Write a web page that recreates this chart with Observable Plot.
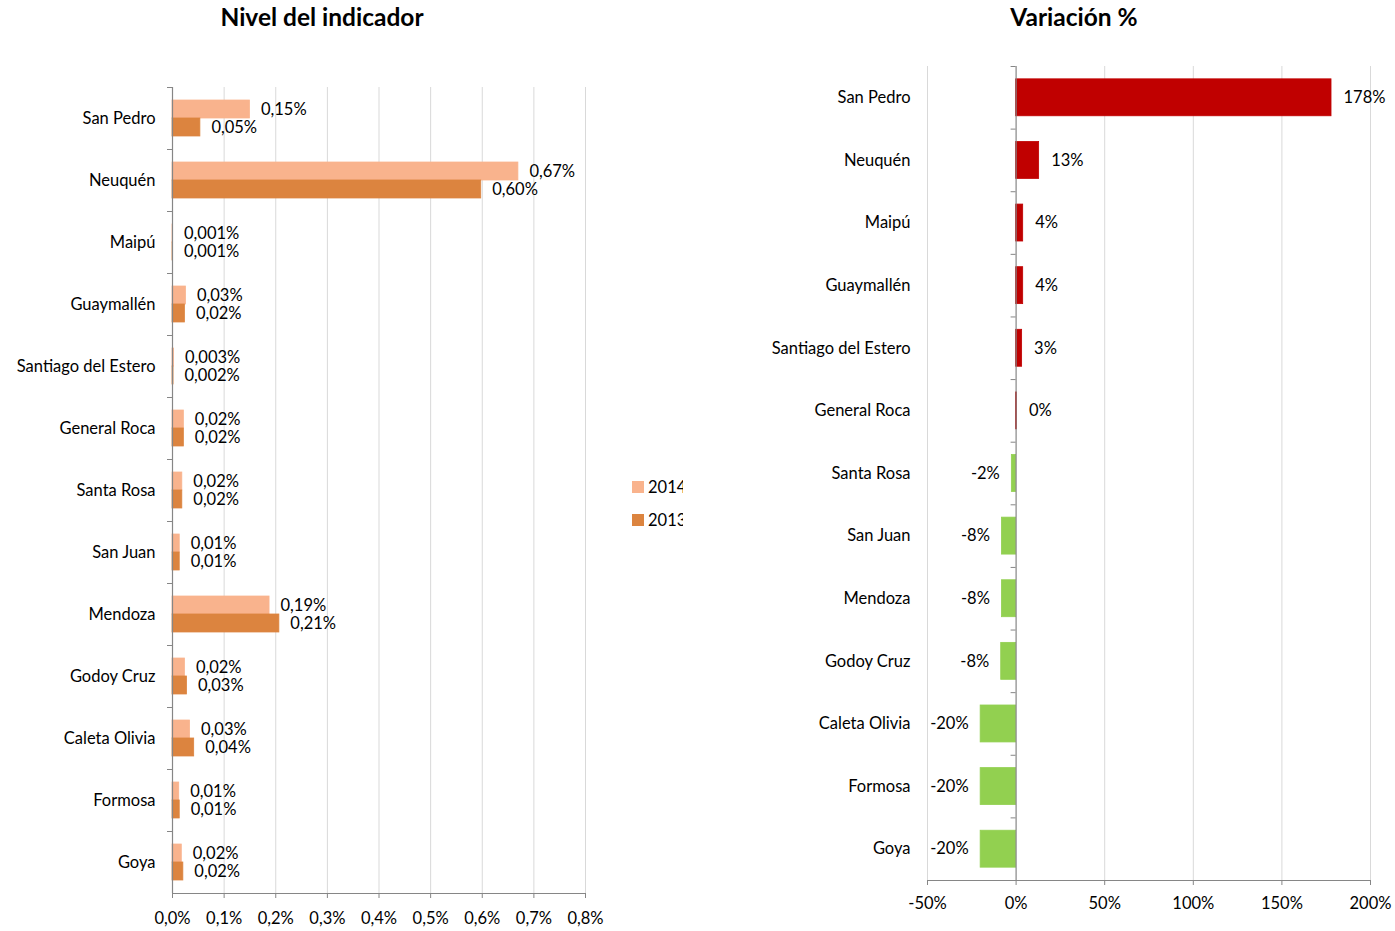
<!DOCTYPE html>
<html><head><meta charset="utf-8">
<script src="https://cdn.jsdelivr.net/npm/d3@7"></script>
<script src="https://cdn.jsdelivr.net/npm/@observablehq/plot@0.6"></script>
<style>
body{margin:0;background:#fff;font-family:Lato,"Open Sans",sans-serif;color:#000;}
#wrap{position:relative;width:1395px;height:931px;overflow:hidden;background:#fff;}
.title{position:absolute;top:2px;font-weight:bold;font-size:24.5px;transform:translateX(-50%);white-space:nowrap;}
#left{position:absolute;left:0;top:0;}
#right{position:absolute;left:700px;top:0;}
#legend{position:absolute;left:632px;top:478px;width:51px;overflow:hidden;font-size:16.5px;white-space:nowrap;}
#legend .it{display:flex;align-items:center;height:17px;margin-bottom:16px;}
#legend .sw{width:12px;height:12px;margin-right:4px;flex:none;}
svg text{font-family:Lato,"Open Sans",sans-serif;}
</style></head>
<body>
<div id="wrap">
  <div class="title" style="left:322px">Nivel del indicador</div>
  <div class="title" style="left:1074px">Variación %</div>
  <div id="left"></div>
  <div id="right"></div>
  <div id="legend"></div>
</div>
<script>
const categories = ["San Pedro","Neuquén","Maipú","Guaymallén","Santiago del Estero","General Roca","Santa Rosa","San Juan","Mendoza","Godoy Cruz","Caleta Olivia","Formosa","Goya"];
const series = ["2014","2013"];
const nivel2014 = [0.15,0.67,0.001,0.026,0.003,0.022,0.019,0.014,0.188,0.024,0.034,0.013,0.018];
const nivel2013 = [0.054,0.598,0.001,0.024,0.002,0.022,0.019,0.014,0.207,0.028,0.042,0.014,0.021];
const variacion = [178,13,4,4,3.4,0.49,-2.4,-8,-8,-8.4,-20,-20,-20];
const nivelTicks = [0,0.1,0.2,0.3,0.4,0.5,0.6,0.7,0.8];
const varTicks = [-50,0,50,100,150,200];

const colors = {"2014":"#F9B38D","2013":"#DC843F"};
const posColor = "#C00000", negColor = "#92D050";
const axisColor = "#868686", gridColor = "#D9D9D9";
const FS = 16.5;

const fmtNivel = v => (v < 0.01 ? v.toFixed(3) : v.toFixed(2)).replace(".", ",") + "%";
const fmtTickNivel = v => v.toFixed(1).replace(".", ",") + "%";
const fmtVar = v => Math.round(v) + "%";

const rows14 = categories.map((c,i) => ({cat:c, v:nivel2014[i]}));
const rows13 = categories.map((c,i) => ({cat:c, v:nivel2013[i]}));
const rowsVar = categories.map((c,i) => ({cat:c, v:variacion[i]}));
const last = [categories[categories.length-1]];

// LEFT CHART
const leftH = 931, leftTop = 87, leftBottom = 893;
const stepL = (leftBottom - leftTop) / categories.length;
const left = Plot.plot({
  width: 640, height: leftH,
  marginLeft: 172, marginRight: 55, marginTop: leftTop, marginBottom: leftH - leftBottom,
  style: {fontSize: FS + "px", fontFamily: "Lato, 'Open Sans', sans-serif", color: "#000", background: "transparent"},
  x: {domain: [0, 0.8], ticks: nivelTicks, tickFormat: fmtTickNivel},
  y: {domain: categories, paddingInner: 0.42, paddingOuter: 0.21, round: false},
  marks: [
    Plot.ruleX(nivelTicks.slice(1), {stroke: gridColor, strokeWidth: 1}),
    Plot.barX(rows14, {y: "cat", x: "v", fill: colors["2014"], stroke: colors["2014"], strokeWidth: 0.8, insetBottom: stepL*0.58/2}),
    Plot.barX(rows13, {y: "cat", x: "v", fill: colors["2013"], stroke: colors["2013"], strokeWidth: 0.8, insetTop: stepL*0.58/2}),
    Plot.text(rows14, {y: "cat", x: "v", text: d => fmtNivel(d.v), dx: 11, dy: -9, textAnchor: "start", fontSize: FS, fill: "#000"}),
    Plot.text(rows13, {y: "cat", x: "v", text: d => fmtNivel(d.v), dx: 11, dy: 9, textAnchor: "start", fontSize: FS, fill: "#000"}),
    Plot.ruleX([0], {stroke: axisColor, strokeWidth: 1.2}),
    Plot.ruleY(categories, {y: d => d, x1: 0, x2: 0, insetLeft: -5, dy: -stepL/2, stroke: axisColor}),
    Plot.ruleY(last, {y: d => d, dy: stepL/2, stroke: axisColor, strokeWidth: 1.2}),
    Plot.axisY({tickSize: 0, tickPadding: 17, label: null, fontSize: FS}),
    Plot.axisX({ticks: nivelTicks, tickFormat: fmtTickNivel, tickSize: 5, tickPadding: 14, stroke: axisColor, label: null, fontSize: FS})
  ]
});
document.getElementById("left").appendChild(left);

// RIGHT CHART
const rightH = 931, rightTop = 66, rightBottom = 880;
const stepR = (rightBottom - rightTop) / categories.length;
const right = Plot.plot({
  width: 695, height: rightH,
  marginLeft: 227, marginRight: 25, marginTop: rightTop, marginBottom: rightH - rightBottom,
  style: {fontSize: FS + "px", fontFamily: "Lato, 'Open Sans', sans-serif", color: "#000", background: "transparent"},
  x: {domain: [-50, 200], ticks: varTicks, tickFormat: d => d + "%"},
  y: {domain: categories, paddingInner: 0.41, paddingOuter: 0.205, round: false},
  marks: [
    Plot.ruleX(varTicks.filter(t => t !== 0), {stroke: gridColor, strokeWidth: 1}),
    Plot.barX(rowsVar, {y: "cat", x: "v", fill: d => d.v >= 0 ? posColor : negColor, stroke: d => d.v >= 0 ? posColor : negColor, strokeWidth: 0.8}),
    Plot.text(rowsVar.filter(d => d.v >= 0), {y: "cat", x: "v", text: d => fmtVar(d.v), dx: 12, textAnchor: "start", fontSize: FS, fill: "#000"}),
    Plot.text(rowsVar.filter(d => d.v < 0), {y: "cat", x: "v", text: d => fmtVar(d.v), dx: -12, textAnchor: "end", fontSize: FS, fill: "#000"}),
    Plot.ruleX([0], {stroke: axisColor, strokeWidth: 1.2}),
    Plot.ruleY(categories, {y: d => d, x1: 0, x2: 0, insetLeft: -5, dy: -stepR/2, stroke: axisColor}),
    Plot.ruleY(last, {y: d => d, dy: stepR/2, stroke: axisColor, strokeWidth: 1.2}),
    Plot.axisY({tickSize: 0, tickPadding: 17, label: null, fontSize: FS}),
    Plot.axisX({ticks: varTicks, tickFormat: d => d + "%", tickSize: 5, tickPadding: 12, stroke: axisColor, label: null, fontSize: FS})
  ]
});
document.getElementById("right").appendChild(right);

// LEGEND
const legend = document.getElementById("legend");
series.forEach(s => {
  const it = document.createElement("div");
  it.className = "it";
  it.innerHTML = `<span class="sw" style="background:${colors[s]}"></span><span>${s}</span>`;
  legend.appendChild(it);
});
</script>
</body></html>
